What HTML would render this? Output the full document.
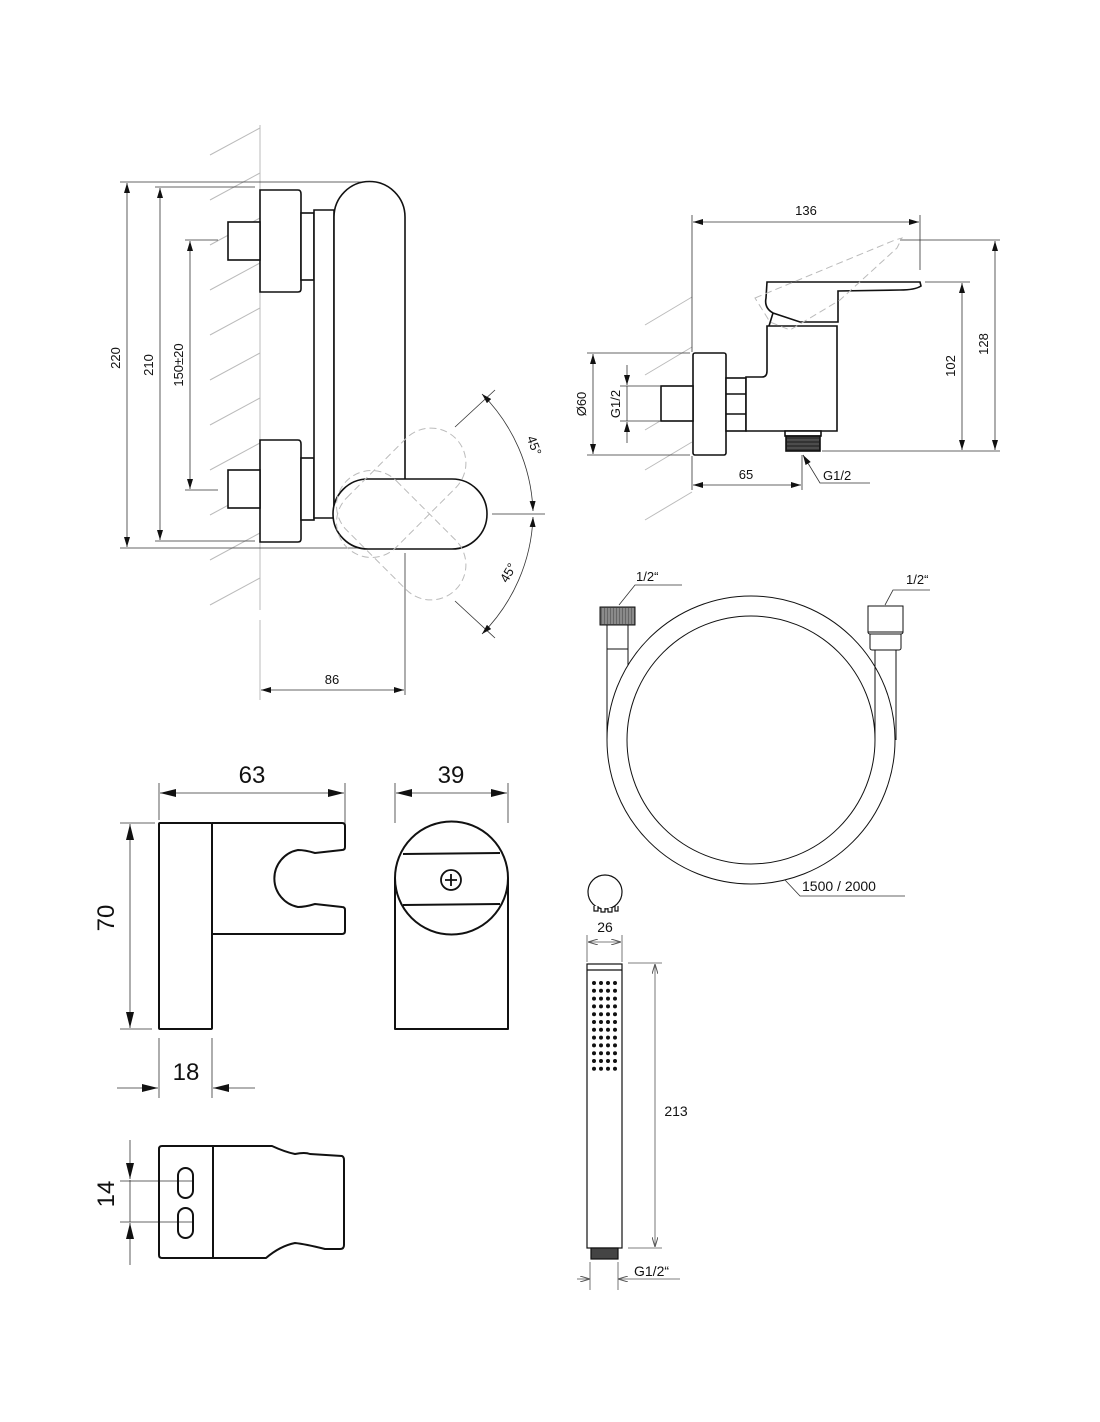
<!DOCTYPE html>
<html><head><meta charset="utf-8"><style>
html,body{margin:0;padding:0;background:#fff;}
svg{display:block;}
text{font-family:"Liberation Sans",Arial,sans-serif;fill:#111;}
</style></head><body>
<svg width="1100" height="1422" viewBox="0 0 1100 1422" xmlns="http://www.w3.org/2000/svg">
<defs>
<marker id="a" viewBox="0 0 10 6" refX="10" refY="3" markerWidth="10" markerHeight="6" orient="auto-start-reverse" markerUnits="userSpaceOnUse"><path d="M0,0 L10,3 L0,6 z" fill="#111"/></marker>
<marker id="o" viewBox="0 0 10 6" refX="10" refY="3" markerWidth="10" markerHeight="6" orient="auto-start-reverse" markerUnits="userSpaceOnUse"><path d="M0,0 L10,3 L0,6" fill="none" stroke="#555" stroke-width="1"/></marker>
<marker id="b" viewBox="0 0 16 8" refX="16" refY="4" markerWidth="16" markerHeight="8" orient="auto-start-reverse" markerUnits="userSpaceOnUse"><path d="M0,0 L16,4 L0,8 z" fill="#111"/></marker>
</defs>

<!-- ===== TOP LEFT VIEW ===== -->
<g stroke="#bbb" stroke-width="1" fill="none">
<line x1="260" y1="125" x2="260" y2="610"/><line x1="260" y1="620" x2="260" y2="700"/>
<path d="M210,155 L260,128 M210,200 L260,173 M210,245 L260,218 M210,290 L260,263 M210,335 L260,308 M210,380 L260,353 M210,425 L260,398 M210,470 L260,443 M210,515 L260,488 M210,560 L260,533 M210,605 L260,578"/>
</g>
<g stroke="#333" stroke-width="0.8" fill="none">
<line x1="120" y1="182" x2="372" y2="182"/><line x1="120" y1="548" x2="400" y2="548"/>
<line x1="127" y1="183" x2="127" y2="547" marker-start="url(#a)" marker-end="url(#a)"/>
<line x1="155" y1="187" x2="255" y2="187"/><line x1="155" y1="541" x2="255" y2="541"/>
<line x1="160" y1="188" x2="160" y2="540" marker-start="url(#a)" marker-end="url(#a)"/>
<line x1="185" y1="240" x2="218" y2="240"/><line x1="185" y1="490" x2="218" y2="490"/>
<line x1="190" y1="241" x2="190" y2="489" marker-start="url(#a)" marker-end="url(#a)"/>
<line x1="405" y1="553" x2="405" y2="695"/>
<line x1="261" y1="690" x2="404" y2="690" marker-start="url(#a)" marker-end="url(#a)"/>
<line x1="492" y1="514" x2="545" y2="514"/>
<line x1="455" y1="427" x2="495" y2="390"/><line x1="455" y1="601" x2="495" y2="638"/>
<path d="M482,394 A175,175 0 0 1 533,511" marker-start="url(#a)" marker-end="url(#a)"/>
<path d="M533,517 A175,175 0 0 1 482,634" marker-start="url(#a)" marker-end="url(#a)"/>
</g>
<text x="127" y="365" font-size="13" text-anchor="middle" transform="rotate(-90 120 365)">220</text>
<text x="153" y="365" font-size="13" text-anchor="middle" transform="rotate(-90 153 365)">210</text>
<text x="183" y="365" font-size="13" text-anchor="middle" transform="rotate(-90 183 365)">150±20</text>
<text x="332" y="684" font-size="13" text-anchor="middle">86</text>
<text x="530" y="447" font-size="13" text-anchor="middle" transform="rotate(70 530 447)">45°</text>
<text x="512" y="575" font-size="13" text-anchor="middle" transform="rotate(-60 512 575)">45°</text>

<g stroke="#111" stroke-width="1.6" fill="#fff">
<path d="M260,190 H298 Q301,190 301,194 V289 Q301,292 298,292 H260 Z"/>
<rect x="228" y="222" width="32" height="38"/>
<rect x="301" y="213" width="13" height="67"/>
<path d="M260,440 H298 Q301,440 301,444 V539 Q301,542 298,542 H260 Z"/>
<rect x="228" y="470" width="32" height="38"/>
<rect x="301" y="458" width="13" height="62"/>
<path d="M314,210 H334 V518 H314 Z"/>
<path d="M334,520 V217 A35.5,35.5 0 0 1 405,217 V480"/>
<rect x="333" y="479" width="154" height="70" rx="35"/>
</g>
<g stroke="#bbb" stroke-width="1" fill="none" stroke-dasharray="7,4">
<rect x="333" y="479" width="154" height="70" rx="35" transform="rotate(-45 380 514)"/>
<rect x="333" y="479" width="154" height="70" rx="35" transform="rotate(45 380 514)"/>
</g>

<!-- ===== TOP RIGHT VIEW ===== -->
<g stroke="#bbb" stroke-width="1" fill="none">
<path d="M645,325 L692,297 M645,375 L692,347 M645,430 L692,402 M645,470 L692,442 M645,520 L692,492"/>
</g>
<g stroke="#333" stroke-width="0.8" fill="none">
<line x1="692" y1="215" x2="692" y2="352"/><line x1="692" y1="456" x2="692" y2="490"/>
<line x1="920" y1="215" x2="920" y2="270"/>
<line x1="693" y1="222" x2="919" y2="222" marker-start="url(#a)" marker-end="url(#a)"/>
<line x1="900" y1="240" x2="1000" y2="240"/><line x1="925" y1="282" x2="970" y2="282"/>
<line x1="822" y1="451" x2="1000" y2="451"/>
<line x1="995" y1="241" x2="995" y2="450" marker-start="url(#a)" marker-end="url(#a)"/>
<line x1="962" y1="283" x2="962" y2="450" marker-start="url(#a)" marker-end="url(#a)"/>
<line x1="587" y1="353" x2="690" y2="353"/><line x1="587" y1="455" x2="690" y2="455"/>
<line x1="593" y1="354" x2="593" y2="454" marker-start="url(#a)" marker-end="url(#a)"/>
<line x1="620" y1="386" x2="660" y2="386"/><line x1="620" y1="421" x2="660" y2="421"/>
<line x1="627" y1="365" x2="627" y2="385" marker-end="url(#a)"/>
<line x1="627" y1="443" x2="627" y2="422" marker-end="url(#a)"/>
<line x1="627" y1="386" x2="627" y2="421"/>
<line x1="802" y1="455" x2="802" y2="490"/>
<line x1="693" y1="485" x2="801" y2="485" marker-start="url(#a)" marker-end="url(#a)"/>
<polyline points="870,483 820,483 803,455" marker-end="url(#a)"/>
</g>
<text x="806" y="215" font-size="13" text-anchor="middle">136</text>
<text x="955" y="366" font-size="13" text-anchor="middle" transform="rotate(-90 955 366)">102</text>
<text x="988" y="344" font-size="13" text-anchor="middle" transform="rotate(-90 988 344)">128</text>
<text x="586" y="404" font-size="13" text-anchor="middle" transform="rotate(-90 586 404)">Ø60</text>
<text x="620" y="404" font-size="13" text-anchor="middle" transform="rotate(-90 620 404)">G1/2</text>
<text x="746" y="479" font-size="13" text-anchor="middle">65</text>
<text x="823" y="480" font-size="13">G1/2</text>
<g stroke="#111" stroke-width="1.6" fill="#fff">
<rect x="693" y="353" width="33" height="102" rx="2"/>
<rect x="661" y="386" width="32" height="35"/>
<rect x="726" y="378" width="20" height="53"/>
<line x1="726" y1="394" x2="746" y2="394"/><line x1="726" y1="414" x2="746" y2="414"/>
<path d="M746,431 V377 H762 Q767,377 767,371 V326 H837 V431 Z"/>
<path d="M773,313 L769,326 M767,282 H920 L921,286 Q915,290 900,290 L838,291 V322 L800,322 L773,313 Q764,308 766,298 Z"/>
<rect x="785" y="431" width="36" height="5"/>
<rect x="786" y="436" width="34" height="15" fill="#333"/>
</g>
<g stroke="#bbb" stroke-width="1" fill="none" stroke-dasharray="7,4">
<path d="M755,298 L895,240 L902,238 L897,248 L840,300 L790,330 L770,322 Z"/>
</g>
<g stroke="#999" stroke-width="0.6"><line x1="787" y1="440" x2="819" y2="440"/><line x1="787" y1="444" x2="819" y2="444"/><line x1="787" y1="448" x2="819" y2="448"/></g>

<!-- ===== HOSE ===== -->
<g stroke="#111" stroke-width="1" fill="none">
<circle cx="751" cy="740" r="144"/>
<circle cx="751" cy="740" r="124"/>
</g>
<g stroke="#111" stroke-width="1" fill="#fff">
<path d="M607,740 V648 M628,665 V648"/>
<rect x="607" y="625" width="21" height="24"/>
<rect x="600" y="607" width="35" height="18" fill="#666"/>
<path d="M875,740 V650 M896,740 V650"/>
<rect x="870" y="625" width="31" height="25" rx="2"/>
<rect x="868" y="630" width="35" height="4" rx="2"/>
<rect x="868" y="606" width="35" height="26"/>
</g>
<g stroke="#ccc" stroke-width="0.7"><path d="M603,608 V624 M606,608 V624 M609,608 V624 M612,608 V624 M615,608 V624 M618,608 V624 M621,608 V624 M624,608 V624 M627,608 V624 M630,608 V624 M633,608 V624"/></g>
<g stroke="#333" stroke-width="0.8" fill="none">
<polyline points="619,605 635,585 682,585"/>
<polyline points="885,605 893,590 930,590"/>
<polyline points="785,880 800,896 905,896"/>
</g>
<text x="636" y="581" font-size="13">1/2“</text>
<text x="906" y="584" font-size="13">1/2“</text>
<text x="802" y="891" font-size="14">1500 / 2000</text>

<!-- ===== HAND SHOWER ===== -->
<g stroke="#111" stroke-width="1.2" fill="#fff">
<circle cx="605" cy="892" r="17"/>
<path d="M594,906 v5 h4 v-5 M601,908 v4 h4 v-4 M608,908 v4 h4 v-4 M615,906 v5 h3 v-5"/>
<rect x="587" y="964" width="35" height="284"/>
<line x1="587" y1="970" x2="622" y2="970"/>
<rect x="591" y="1248" width="27" height="11" fill="#444"/>
</g>
<g fill="#111">
<g id="row"><circle cx="594" cy="983" r="2"/><circle cx="601" cy="983" r="2"/><circle cx="608" cy="983" r="2"/><circle cx="615" cy="983" r="2"/></g>
<use href="#row" y="7.8"/><use href="#row" y="15.6"/><use href="#row" y="23.4"/><use href="#row" y="31.2"/><use href="#row" y="39"/><use href="#row" y="46.8"/><use href="#row" y="54.6"/><use href="#row" y="62.4"/><use href="#row" y="70.2"/><use href="#row" y="78"/><use href="#row" y="85.8"/>
</g>
<g stroke="#555" stroke-width="0.8" fill="none">
<line x1="587" y1="935" x2="587" y2="962"/><line x1="622" y1="935" x2="622" y2="962"/>
<line x1="588" y1="942" x2="621" y2="942" marker-start="url(#o)" marker-end="url(#o)"/>
<line x1="628" y1="963" x2="662" y2="963"/><line x1="628" y1="1248" x2="662" y2="1248"/>
<line x1="655" y1="964" x2="655" y2="1247" marker-start="url(#o)" marker-end="url(#o)"/>
<line x1="590" y1="1262" x2="590" y2="1290"/><line x1="618" y1="1262" x2="618" y2="1290"/>
<line x1="577" y1="1279" x2="590" y2="1279" marker-end="url(#o)"/>
<line x1="680" y1="1279" x2="618" y2="1279" marker-end="url(#o)"/>
</g>
<text x="605" y="932" font-size="14" text-anchor="middle">26</text>
<text x="676" y="1116" font-size="14" text-anchor="middle">213</text>
<text x="634" y="1276" font-size="14">G1/2“</text>

<!-- ===== HOLDER ===== -->
<g stroke="#333" stroke-width="0.8" fill="none">
<line x1="159" y1="783" x2="159" y2="820"/><line x1="345" y1="783" x2="345" y2="826"/>
<line x1="160" y1="793" x2="344" y2="793" marker-start="url(#b)" marker-end="url(#b)"/>
<line x1="395" y1="783" x2="395" y2="823"/><line x1="508" y1="783" x2="508" y2="823"/>
<line x1="396" y1="793" x2="507" y2="793" marker-start="url(#b)" marker-end="url(#b)"/>
<line x1="120" y1="823" x2="155" y2="823"/><line x1="120" y1="1029" x2="152" y2="1029"/>
<line x1="130" y1="824" x2="130" y2="1028" marker-start="url(#b)" marker-end="url(#b)"/>
<line x1="159" y1="1038" x2="159" y2="1098"/><line x1="212" y1="1038" x2="212" y2="1098"/>
<line x1="117" y1="1088" x2="158" y2="1088" marker-end="url(#b)"/>
<line x1="255" y1="1088" x2="213" y2="1088" marker-end="url(#b)"/>
<line x1="130" y1="1140" x2="130" y2="1179" marker-end="url(#b)"/>
<line x1="130" y1="1265" x2="130" y2="1223" marker-end="url(#b)"/>
<line x1="130" y1="1180" x2="130" y2="1222"/>
<line x1="120" y1="1181" x2="192" y2="1181"/><line x1="120" y1="1222" x2="192" y2="1222"/>
</g>
<text x="252" y="783" font-size="24" text-anchor="middle">63</text>
<text x="451" y="783" font-size="24" text-anchor="middle">39</text>
<text x="122" y="926" font-size="24" text-anchor="middle" transform="rotate(-90 114 926)">70</text>
<text x="186" y="1080" font-size="24" text-anchor="middle">18</text>
<text x="122" y="1202" font-size="24" text-anchor="middle" transform="rotate(-90 114 1202)">14</text>
<g stroke="#111" stroke-width="2" fill="none" stroke-linejoin="round">
<rect x="159" y="823" width="53" height="206" rx="1"/>
<path d="M212,823 H342 Q345,823 345,826 V847 Q345,850 342,850 L315,853 Q305,850 298,850 A29,29 0 0 0 298,907 Q305,907 315,904 L342,907 Q345,907 345,910 V931 Q345,934 342,934 H212"/>
<path d="M395,878 V1029 H508 V878"/>
<circle cx="451.5" cy="878" r="56.5"/>
<line x1="403" y1="854" x2="500" y2="853"/><line x1="403" y1="905" x2="500" y2="904"/>
<circle cx="451" cy="880" r="10" stroke-width="1.8"/>
<path d="M445,880 H457 M451,874 V886" stroke-width="1.8"/>
<path d="M162,1146 H272 Q285,1152 295,1154 Q305,1152 310,1154 L342,1156 Q344,1157 344,1160 V1245 Q344,1249 340,1249 L325,1249 Q305,1244 295,1243 Q280,1246 266,1258 H162 Q159,1258 159,1255 V1149 Q159,1146 162,1146 Z"/>
<line x1="213" y1="1146" x2="213" y2="1258"/>
<rect x="178" y="1168" width="15" height="30" rx="7.5"/>
<rect x="178" y="1208" width="15" height="30" rx="7.5"/>
</g>
</svg>
</body></html>
